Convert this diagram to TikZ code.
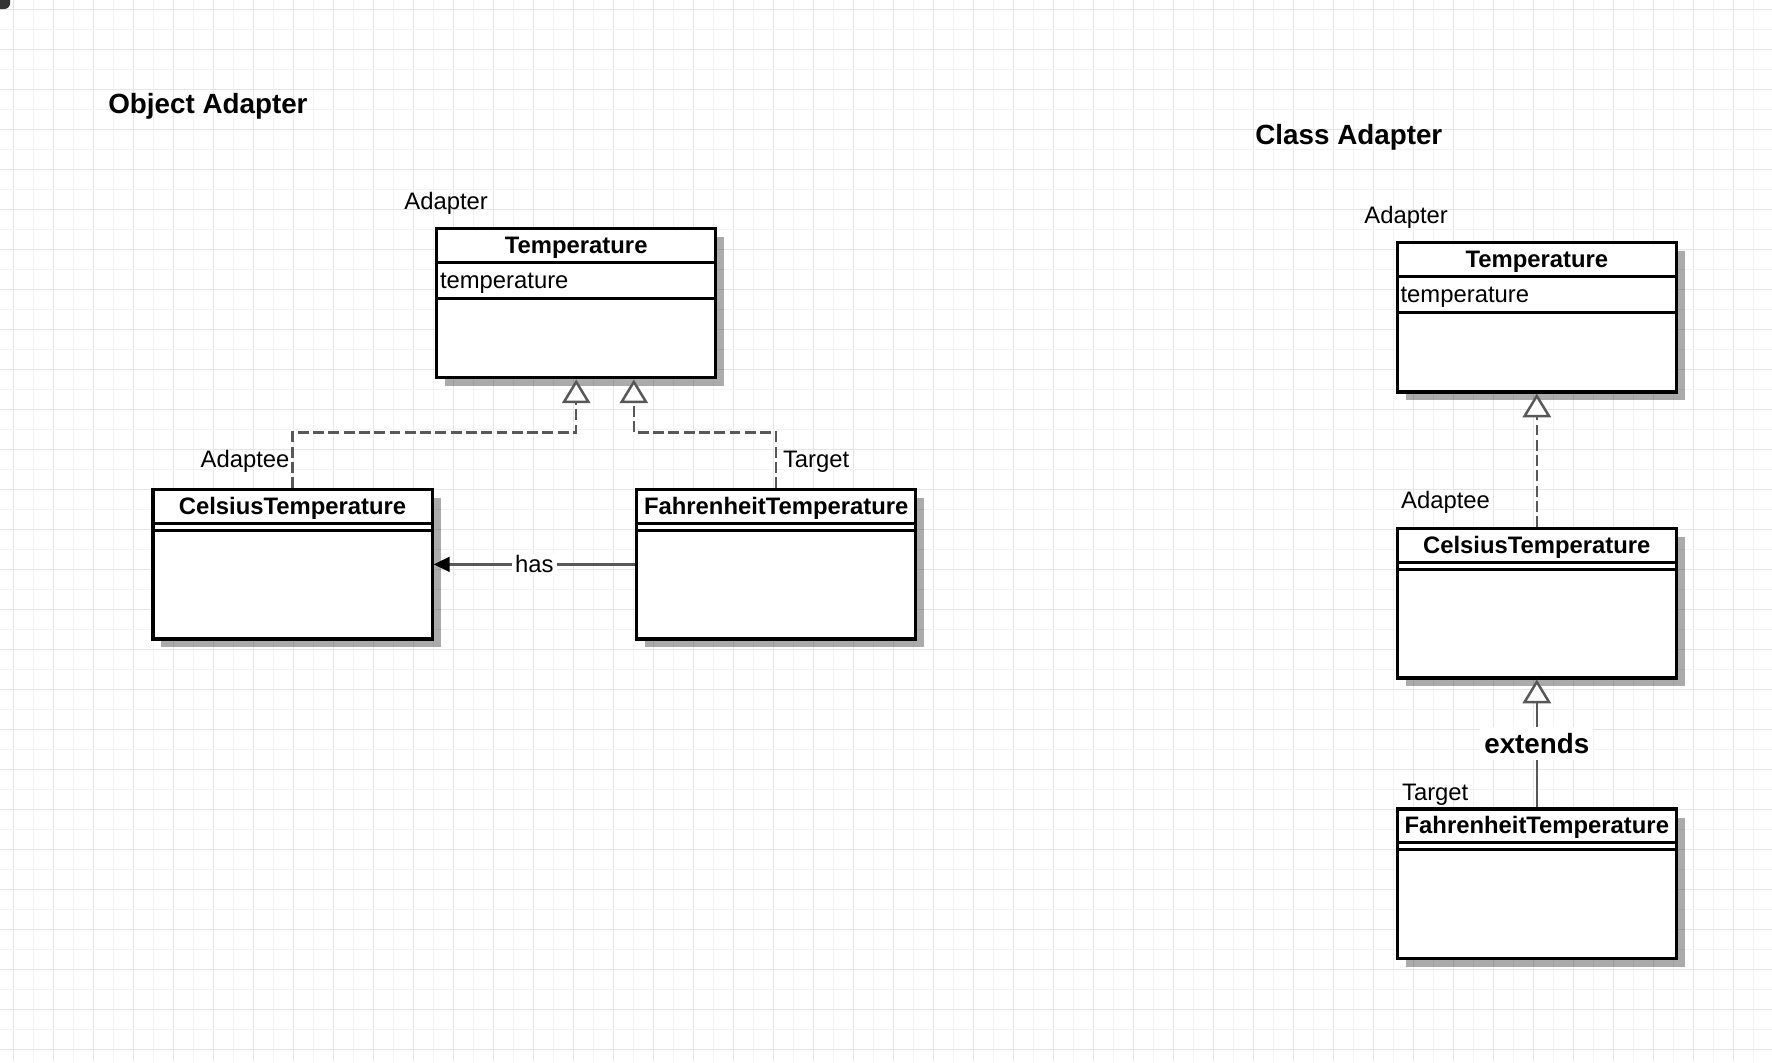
\documentclass[tikz,border=0pt]{standalone}
\usepackage{fontspec}
\setmainfont{Liberation Sans}
\usetikzlibrary{arrows.meta,shadows}
\definecolor{grid_major}{RGB}{229, 227, 251}
\definecolor{grid_minor}{RGB}{242, 241, 254}
\definecolor{conn}{RGB}{88, 88, 88}
\tikzstyle{cls}=[draw=black,fill=white,line width=1.6pt,inner sep=0pt,anchor=north west,
  minimum width=4.94cm,minimum height=2.64cm,
  drop shadow={shadow xshift=0.15cm,shadow yshift=-0.15cm,fill=black,opacity=0.33}]
\tikzstyle{sep}=[draw=black,line width=1.6pt]
\tikzstyle{lbl}=[inner sep=0pt,font=\fontsize{12}{14}\selectfont]
\tikzstyle{hdr}=[inner sep=0pt,font=\fontsize{12}{14}\selectfont\bfseries]
\tikzstyle{ttl}=[inner sep=0pt,font=\fontsize{14}{16}\selectfont\bfseries]
\tikzstyle{impl}=[draw=conn,line width=1.25pt,dash pattern=on 5.5pt off 2.2pt,
  -{Triangle[width=0.5cm,length=0.42cm,fill=white]}]
\tikzstyle{ext}=[draw=conn,line width=1.25pt,-{Triangle[width=0.5cm,length=0.42cm,fill=white]}]
\tikzstyle{has}=[draw=conn,line width=1.25pt,-{Triangle[width=0.26cm,length=0.28cm,color=black]}]
\tikzstyle{haslbl}=[lbl,fill=white,inner xsep=1.5pt,inner ysep=1pt,midway]
\tikzstyle{extlbl}=[ttl,fill=white,inner xsep=2pt,inner ysep=3pt]

\begin{document}
\begin{tikzpicture}[x=0.02cm,y=-0.02cm]
    \useasboundingbox (0,0) rectangle (1568,940);
    \fill[white] (0,0) rectangle (1568,940);
    % grid
    \foreach \i in {0,...,44} {
      \draw[grid_minor,line width=0.5pt] (29.5+35.398*\i,0) -- (29.5+35.398*\i,940);
      \draw[grid_major,line width=0.5pt] (11.8+35.398*\i,0) -- (11.8+35.398*\i,940);
    }
    \foreach \j in {0,...,26} {
      \draw[grid_minor,line width=0.5pt] (0,25.9+35.398*\j) -- (1568,25.9+35.398*\j);
      \draw[grid_major,line width=0.5pt] (0,8.2+35.398*\j) -- (1568,8.2+35.398*\j);
    }
    \begin{scope}
      \clip (0,0) rectangle (20,20);
      \fill[black!80,rounded corners=3pt] (-10,-10) rectangle (9,8);
    \end{scope}

    % object adapter
    \node [style=ttl,anchor=base west] (objttl) at (95.5,100.5) {Object Adapter};
    \node [style=cls] (tempL) at (385,201) {};
    \node [style=cls] (celsL) at (134,432) {};
    \node [style=cls] (fahrL) at (562,432) {};
    \draw [style=sep] (tempL.north west) ++(0,31) -- ++(249.8,0);
    \draw [style=sep] (tempL.north west) ++(0,63) -- ++(249.8,0);
    \draw [style=sep] (celsL.north west) ++(0,31) -- ++(249.8,0);
    \draw [style=sep] (celsL.north west) ++(0,37.5) -- ++(249.8,0);
    \draw [style=sep] (fahrL.north west) ++(0,31) -- ++(249.8,0);
    \draw [style=sep] (fahrL.north west) ++(0,37.5) -- ++(249.8,0);
    \node [style=hdr,anchor=base] (tempLn) at ([yshift=-0.46cm]tempL.north) {Temperature};
    \node [style=lbl,anchor=base west] (tempLa) at ([xshift=0.08cm,yshift=-1.08cm]tempL.north west) {temperature};
    \node [style=hdr,anchor=base] (celsLn) at ([yshift=-0.46cm]celsL.north) {CelsiusTemperature};
    \node [style=hdr,anchor=base] (fahrLn) at ([yshift=-0.46cm]fahrL.north) {FahrenheitTemperature};
    \node [style=lbl,anchor=base west] (adptL) at (357.5,185.5) {Adapter};
    \node [style=lbl,anchor=base east] (adpteeL) at (256.5,413.5) {Adaptee};
    \node [style=lbl,anchor=base west] (trgtL) at (692.5,413.5) {Target};
    \draw [style=impl] (celsL.north) -- ++(0,-49.5) -| (tempL.south);
    \draw [style=impl] (fahrL.north) -- ++(0,-49.5) -| ([xshift=1.02cm]tempL.south);
    \draw [style=has] (fahrL.west) -- node[haslbl] (hasL) {has} (celsL.east);

    % class adapter
    \node [style=ttl,anchor=base west] (clsttl) at (1110.5,128.3) {Class Adapter};
    \node [style=cls] (tempR) at (1235,213.5) {};
    \node [style=cls] (celsR) at (1235,466.5) {};
    \node [style=cls] (fahrR) at (1235,714.5) {};
    \draw [style=sep] (tempR.north west) ++(0,31) -- ++(249.8,0);
    \draw [style=sep] (tempR.north west) ++(0,63) -- ++(249.8,0);
    \draw [style=sep] (celsR.north west) ++(0,31) -- ++(249.8,0);
    \draw [style=sep] (celsR.north west) ++(0,37.5) -- ++(249.8,0);
    \draw [style=sep] (fahrR.north west) ++(0,31) -- ++(249.8,0);
    \draw [style=sep] (fahrR.north west) ++(0,37.5) -- ++(249.8,0);
    \node [style=hdr,anchor=base] (tempRn) at ([yshift=-0.46cm]tempR.north) {Temperature};
    \node [style=lbl,anchor=base west] (tempRa) at ([xshift=0.08cm,yshift=-1.08cm]tempR.north west) {temperature};
    \node [style=hdr,anchor=base] (celsRn) at ([yshift=-0.46cm]celsR.north) {CelsiusTemperature};
    \node [style=hdr,anchor=base] (fahrRn) at ([yshift=-0.46cm]fahrR.north) {FahrenheitTemperature};
    \node [style=lbl,anchor=base west] (adptR) at (1207,198.2) {Adapter};
    \node [style=lbl,anchor=base west] (adpteeR) at (1239.5,449.8) {Adaptee};
    \node [style=lbl,anchor=base west] (trgtR) at (1240.3,708.5) {Target};
    \draw [style=impl] (celsR.north) -- (tempR.south);
    \draw [style=ext] (fahrR.north) -- node[extlbl,midway] (extR) {extends} (celsR.south);
\end{tikzpicture}
\end{document}
